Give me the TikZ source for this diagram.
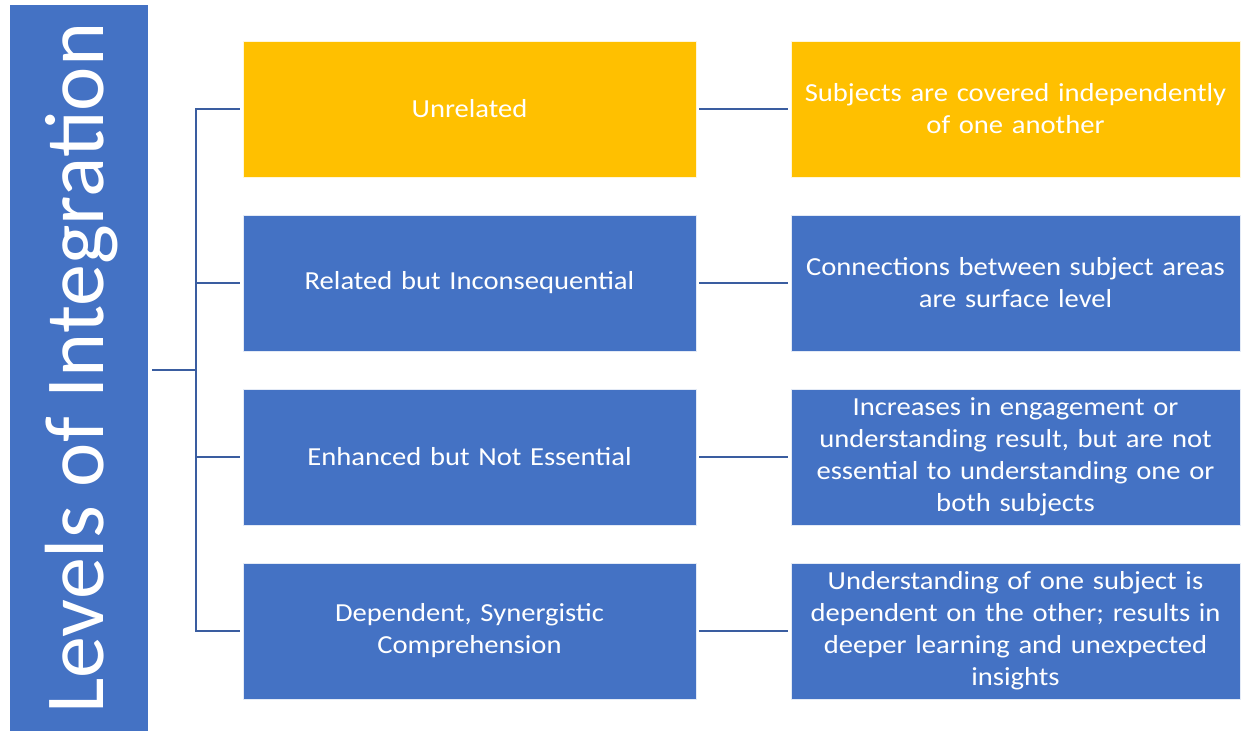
\documentclass[tikz,border=0pt]{standalone}
\usepackage{fontspec}
\setmainfont{Carlito}
\newfontfamily\boxfont[FakeStretch=1.1]{Carlito}
\definecolor{boxblue}{HTML}{4472C4}
\definecolor{boxyellow}{HTML}{FFC000}
\definecolor{linkblue}{HTML}{3A5DA0}
\begin{document}
\begin{tikzpicture}[x=1pt,y=-1pt,
  box/.style={draw=white!85!boxblue, line width=0.8pt, fill=boxblue, text=white, minimum height=136pt, align=center, inner sep=0pt,
    font=\boxfont\fontsize{26}{32}\selectfont},
  leftbox/.style={box, minimum width=453pt, text width=440pt},
  rightbox/.style={box, minimum width=449pt, text width=440pt},
  yel/.style={fill=boxyellow, draw=white!85!boxyellow},
  link/.style={draw=linkblue, line width=2.6pt}]
\useasboundingbox (0,0) rectangle (1242,731);
\node[fill=boxblue, minimum width=138pt, minimum height=726pt, inner sep=0pt] (bar) at (79,368) {};
\node[rotate=90, anchor=base west, text=white, inner sep=0pt, font=\fontsize{84}{100}\selectfont] (title) at (103,714) {Levels of Integration};

\node[leftbox, yel] (L1) at (469.5,109) {Unrelated};
\node[leftbox] (L2) at (469.5,283) {Related but Inconsequential};
\node[leftbox] (L3) at (469.5,457) {Enhanced but Not Essential};
\node[leftbox] (L4) at (469.5,631) {Dependent, Synergistic\\Comprehension};

\node[rightbox, yel] (R1) at (1015.5,109) {Subjects are covered independently\\of one another};
\node[rightbox] (R2) at (1015.5,283) {Connections between subject areas\\are surface level};
\node[rightbox] (R3) at (1015.5,457) {Increases in engagement or\\understanding result, but are not\\essential to understanding one or\\both subjects};
\node[rightbox] (R4) at (1015.5,631) {Understanding of one subject is\\dependent on the other; results in\\deeper learning and unexpected\\insights};

\coordinate (J) at (196,370);
\draw[link] ([xshift=4pt]bar.east |- J) -- (J);
\foreach \i in {1,2,3,4}{
  \draw[link] (J) |- ([xshift=-3pt]L\i.west);
  \draw[link] ([xshift=3pt]L\i.east) -- ([xshift=-3pt]R\i.west);
}
\end{tikzpicture}
\end{document}
